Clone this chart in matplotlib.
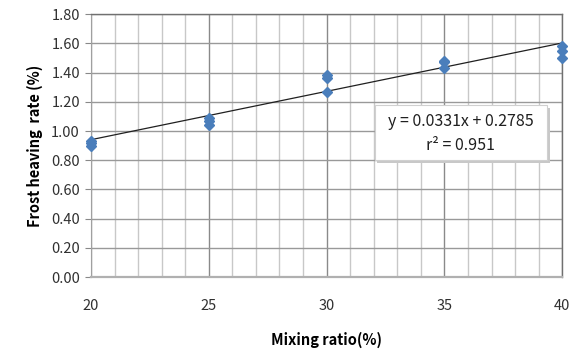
import matplotlib.pyplot as plt
import numpy as np
from matplotlib.patches import Rectangle
from matplotlib.ticker import MultipleLocator

# mixing ratio (%) and measured frost heaving rate (%)
mix_ratio = [20, 20, 20, 25, 25, 25, 30, 30, 30, 35, 35, 35, 40, 40, 40]
heave_rate = [0.90, 0.92, 0.93, 1.04, 1.07, 1.09, 1.27, 1.36, 1.38,
              1.43, 1.47, 1.48, 1.50, 1.55, 1.58]

# trend line as printed on the chart
slope = 0.0331
intercept = 0.2785
eq_text = 'y = 0.0331x + 0.2785'
r2_text = 'r² = 0.951'

plt.rcParams['font.family'] = ['Noto Sans CJK KR', 'DejaVu Sans']

fig = plt.figure(figsize=(5.76, 3.53), dpi=100)
ax = fig.add_axes([0.158, 0.215, 0.818, 0.745])

ax.set_xlim(20, 40)
ax.set_ylim(0, 1.8)
ax.xaxis.set_major_locator(MultipleLocator(5))
ax.xaxis.set_minor_locator(MultipleLocator(1))
ax.set_yticks(np.arange(0, 1.81, 0.2))
ax.set_yticklabels([f'{v:.2f}' for v in np.arange(0, 1.81, 0.2)])

ax.grid(which='minor', axis='x', color='#c8c8c8', linewidth=1.0)
ax.grid(which='major', axis='x', color='#8a8a8a', linewidth=1.0)
ax.grid(which='major', axis='y', color='#999999', linewidth=1.0)
ax.set_axisbelow(True)

for s in ['top', 'right']:
    ax.spines[s].set_color('#707070')
    ax.spines[s].set_linewidth(1.0)
ax.spines['left'].set_color('#a0a0a0')
ax.spines['bottom'].set_color('#b0b0b0')
ax.spines['bottom'].set_linewidth(1.6)

ax.tick_params(axis='y', direction='out', length=4, color='#888888', labelsize=10.5,
               labelcolor='#303030', pad=4)
ax.tick_params(axis='x', which='both', length=0, labelsize=10.5, labelcolor='#303030', pad=16)

xs = np.array([20, 40])
ax.plot(xs, slope * xs + intercept, color='#202020', linewidth=0.9, zorder=3)
ax.plot(mix_ratio, heave_rate, linestyle='none', marker='D', markersize=5.5,
        color='#4a7ebb', markeredgecolor='#4a7ebb', zorder=4, clip_on=False)

ax.set_xlabel('Mixing ratio(%)', fontsize=10.5, fontweight='bold', labelpad=13)
ax.set_ylabel('Frost heaving  rate (%)', fontsize=10.5, fontweight='bold', labelpad=6)

# equation box with a soft shadow
bx0, by0, bw, bh = 0.602, 0.445, 0.366, 0.209
ax.add_patch(Rectangle((bx0 + 0.006, by0 - 0.012), bw, bh, transform=ax.transAxes,
                       facecolor='#c8c8c8', edgecolor='none', zorder=5))
ax.add_patch(Rectangle((bx0, by0), bw, bh, transform=ax.transAxes,
                       facecolor='white', edgecolor='#d0d0d0', linewidth=0.8, zorder=6))
ax.text(bx0 + bw / 2, by0 + bh * 0.70, eq_text, transform=ax.transAxes,
        ha='center', va='center', fontsize=11.5, color='#202020', zorder=7)
ax.text(bx0 + bw / 2, by0 + bh * 0.26, r2_text, transform=ax.transAxes,
        ha='center', va='center', fontsize=11.5, color='#202020', zorder=7)

fig.savefig('out.png', dpi=100)
